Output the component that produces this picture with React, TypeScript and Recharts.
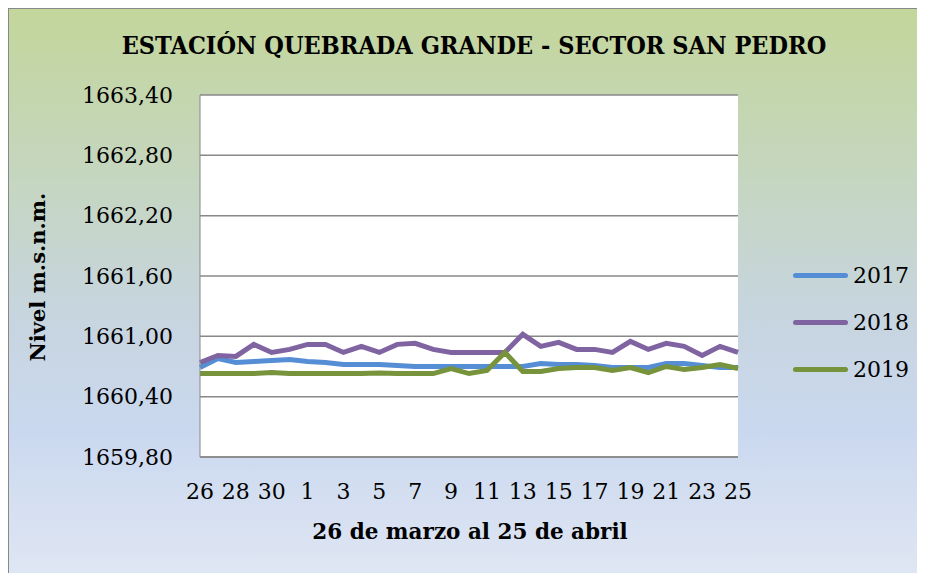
import React from 'react';
import { LineChart, Line, XAxis, YAxis, CartesianGrid, Legend } from 'recharts';

const days = ['26','27','28','29','30','31','1','2','3','4','5','6','7','8','9','10','11','12','13','14','15','16','17','18','19','20','21','22','23','24','25'];
const s2017 = [1660.69,1660.78,1660.74,1660.75,1660.76,1660.77,1660.75,1660.74,1660.72,1660.72,1660.72,1660.71,1660.70,1660.70,1660.70,1660.70,1660.70,1660.70,1660.70,1660.73,1660.72,1660.72,1660.71,1660.69,1660.69,1660.69,1660.73,1660.73,1660.71,1660.69,1660.69];
const s2018 = [1660.74,1660.81,1660.80,1660.92,1660.84,1660.87,1660.92,1660.92,1660.84,1660.90,1660.84,1660.92,1660.93,1660.87,1660.84,1660.84,1660.84,1660.84,1661.02,1660.90,1660.94,1660.87,1660.87,1660.84,1660.95,1660.87,1660.93,1660.90,1660.81,1660.90,1660.84];
const s2019 = [1660.63,1660.63,1660.63,1660.63,1660.64,1660.63,1660.63,1660.63,1660.63,1660.63,1660.635,1660.63,1660.63,1660.63,1660.68,1660.63,1660.66,1660.84,1660.65,1660.65,1660.68,1660.69,1660.69,1660.66,1660.69,1660.64,1660.70,1660.67,1660.69,1660.72,1660.68];
const yTicks = [1659.8,1660.4,1661.0,1661.6,1662.2,1662.8,1663.4];
const seriesNames = ['2017','2018','2019'];
const seriesColors = ['#558ed5','#8064a2','#77933c'];

const data = days.map((d, i) => ({ day: d, '2017': s2017[i], '2018': s2018[i], '2019': s2019[i] }));

const FONT = '"DejaVu Serif", Cambria, serif';
const fmt = (v: number) => v.toFixed(2).replace('.', ',');

const renderLegend = () => (
  <div style={{ fontFamily: FONT }}>
    {seriesNames.map((n, i) => (
      <div key={n} style={{ display: 'flex', alignItems: 'center', height: 47 }}>
        <div style={{ width: 55, height: 5, borderRadius: 3, background: seriesColors[i], marginRight: 5 }} />
        <span style={{ fontSize: 22, color: '#000', lineHeight: 1 }}>{n}</span>
      </div>
    ))}
  </div>
);

export default function App() {
  return (
    <div style={{ position: 'relative', top: -1, left: -1, width: 918, height: 566, boxSizing: 'border-box', borderLeft: '2px solid #888', borderTop: '2px solid #888', background: 'linear-gradient(180deg, #c3d69b 0%, #c5d6c0 30%, #c7d5e0 55%, #cad8ef 75%, #dfe6f3 100%)', overflow: 'hidden' }}>
      <div style={{ position: 'absolute', left: 0, top: 22, width: 930, textAlign: 'center', fontFamily: FONT, fontStretch: 'condensed', fontWeight: 'bold', fontSize: 25, lineHeight: '30px', color: '#000' }}>
        ESTACIÓN QUEBRADA GRANDE - SECTOR SAN PEDRO
      </div>
      <div style={{ position: 'absolute', left: 29 - 100, top: 268 - 14, width: 200, textAlign: 'center', transform: 'rotate(-90deg)', fontFamily: FONT, fontWeight: 'bold', fontSize: 21, lineHeight: '28px', color: '#000' }}>
        Nivel m.s.n.m.
      </div>
      <div style={{ position: 'absolute', left: 461 - 200, top: 523 - 14, width: 400, textAlign: 'center', fontFamily: FONT, fontWeight: 'bold', fontSize: 21.5, lineHeight: '28px', color: '#000' }}>
        26 de marzo al 25 de abril
      </div>
      <LineChart width={916} height={564} data={data} margin={{ top: 86, right: 187, left: 71, bottom: 56 }}>
        <CartesianGrid vertical={false} stroke="#888" strokeWidth={1.5} fill="#ffffff" />
        <XAxis dataKey="day" interval={1} tickLine={false} tickSize={0} tickMargin={26} height={60} axisLine={{ stroke: '#888', strokeWidth: 1.5 }} tick={{ fontFamily: FONT, fontSize: 22, fill: '#000' }} />
        <YAxis width={120} domain={[1659.8, 1663.4]} ticks={yTicks} tickFormatter={fmt} tickLine={false} tickSize={0} tickMargin={27} axisLine={{ stroke: '#888', strokeWidth: 1 }} tick={{ fontFamily: FONT, fontSize: 22, fill: '#000' }} />
        <Legend layout="horizontal" verticalAlign="middle" align="center" content={renderLegend} wrapperStyle={{ position: 'absolute', left: 784, top: 243, width: 130 }} />
        {seriesNames.map((n, i) => (
          <Line key={n} type="linear" dataKey={n} stroke={seriesColors[i]} strokeWidth={5} dot={false} isAnimationActive={false} />
        ))}
      </LineChart>
    </div>
  );
}
